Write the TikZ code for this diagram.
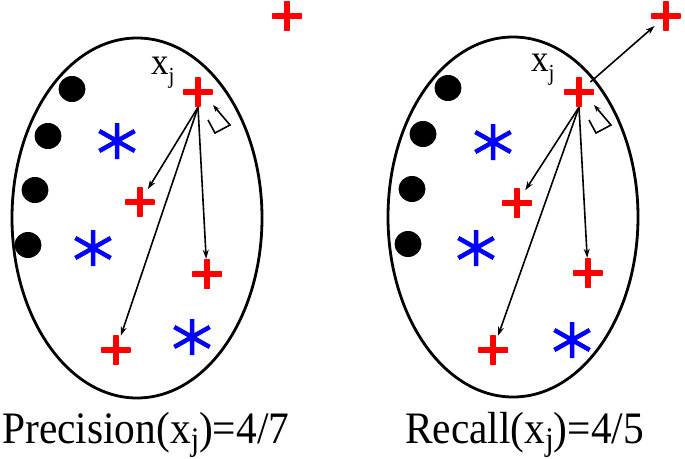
\documentclass[tikz,border=0pt]{standalone}
\usepackage{fontspec}
\setmainfont{Liberation Serif}
\newfontfamily\capfont{Liberation Serif}[FakeStretch=0.92]
\usetikzlibrary{arrows.meta,shapes.geometric}
\definecolor{plusred}{RGB}{255,0,0}
\definecolor{starblue}{RGB}{0,0,255}
\newcommand{\xjlabel}[3]{\fontsize{#1}{#1}\selectfont x\raisebox{-#3pt}{\fontsize{#2}{#2}\selectfont j}}

\begin{document}
\begin{tikzpicture}[x=1pt, y=-1pt,
  ptdot/.style={ellipse, fill=black, minimum width=27pt, minimum height=26pt, inner sep=0pt},
  plusmark/.style={circle, minimum size=30pt, inner sep=0pt, path picture={
      \draw[plusred, line width=6pt] (path picture bounding box.north) -- (path picture bounding box.south)
        (path picture bounding box.west) -- (path picture bounding box.east);}},
  starmark/.style={circle, minimum size=44pt, inner sep=0pt, path picture={
      \draw[starblue, line width=4.5pt] (path picture bounding box.center) ++(0,-18) -- ++(0,36)
        (path picture bounding box.center) ++(-17.7,-10) -- ++(35.4,20)
        (path picture bounding box.center) ++(-17.7,10) -- ++(35.4,-20);}},
  conn/.style={-{Stealth[length=9pt,width=6pt]}, line width=1.6pt},
  anglemark/.style={-{Stealth[length=7pt,width=5pt]}, line width=1.6pt},
  border/.style={line width=2.8pt},
  txt/.style={anchor=base west, inner sep=0pt, font=\capfont}]
  \useasboundingbox (0,0) rectangle (685,458);

  % precision side
  \draw[border] (137,218) ellipse [x radius=125, y radius=180];
  \node[ptdot] (dl1) at (72,89) {};
  \node[ptdot] (dl2) at (48,136) {};
  \node[ptdot] (dl3) at (35,190) {};
  \node[ptdot] (dl4) at (28,245) {};
  \node[starmark] (sl1) at (117,141) {};
  \node[starmark] (sl2) at (93,248) {};
  \node[starmark] (sl3) at (192,337) {};
  \node[plusmark] (xjl) at (198,92) {};
  \node[plusmark] (pl1) at (140,202) {};
  \node[plusmark] (pl2) at (207,274) {};
  \node[plusmark] (pl3) at (116,350) {};
  \node[plusmark] (outl) at (287,16) {};
  \node[txt] (labl) at (151,74) {\xjlabel{38}{23}{9}};
  \draw[conn] (xjl.south) -- (pl1);
  \draw[conn] (xjl.south) -- (pl2);
  \draw[conn] (xjl.south) -- (pl3);
  \draw[anglemark] ([shift={(10,28)}]xjl.center) -- ++(7,13) -- ++(15,-8) -- ++(-17,-20);
  \node[txt] (capl) at (2,443) {\fontsize{45}{45}\selectfont Precision(\xjlabel{45}{33}{7})=4/7};

  % recall side
  \draw[border] (513,217) ellipse [x radius=125, y radius=180];
  \node[ptdot] (dr1) at (448,88) {};
  \node[ptdot] (dr2) at (423,134) {};
  \node[ptdot] (dr3) at (412,189) {};
  \node[ptdot] (dr4) at (408,244) {};
  \node[starmark] (sr1) at (493,142) {};
  \node[starmark] (sr2) at (476,248) {};
  \node[starmark] (sr3) at (572,340) {};
  \node[plusmark] (xjr) at (579,92) {};
  \node[plusmark] (pr1) at (517,203) {};
  \node[plusmark] (pr2) at (588,273) {};
  \node[plusmark] (pr3) at (493,350) {};
  \node[plusmark] (outr) at (666,16) {};
  \node[txt] (labr) at (531,71) {\xjlabel{38}{23}{9}};
  \draw[conn] (xjr.south) -- (pr1);
  \draw[conn] (xjr.south) -- (pr2);
  \draw[conn] (xjr.south) -- (pr3);
  \draw[conn] (xjr) -- (outr);
  \draw[anglemark] ([shift={(10,28)}]xjr.center) -- ++(7,13) -- ++(15,-8) -- ++(-17,-20);
  \node[txt] (capr) at (405,443) {\fontsize{45}{45}\selectfont Recall(\xjlabel{45}{33}{7})=4/5};
\end{tikzpicture}
\end{document}
